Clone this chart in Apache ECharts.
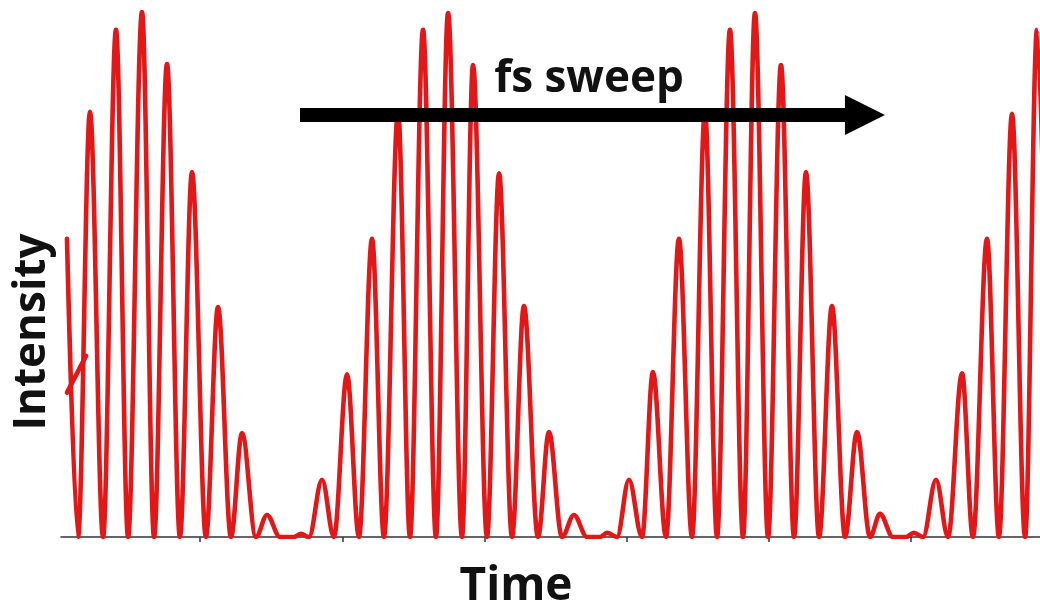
<!DOCTYPE html>
<html>
<head>
<meta charset="utf-8">
<script src="https://cdn.jsdelivr.net/npm/echarts@6/dist/echarts.min.js"></script>
<style>
html,body{margin:0;padding:0;background:#fff;}
#chart{width:1040px;height:602px;}
</style>
</head>
<body>
<div id="chart"></div>
<script>
// Time (arbitrary units, one tick = 1 unit) of each peak / trough of the signal
const timeValues = [
  0.062, 0.140, 0.224, 0.316, 0.407, 0.492, 0.590, 0.675, 0.766, 0.857,
  0.942, 1.040, 1.125, 1.216, 1.294, 1.392, 1.470, 1.561, 1.660, 1.709,
  1.765, 1.857, 1.941, 2.033, 2.117, 2.209, 2.293, 2.392, 2.476, 2.568,
  2.659, 2.744, 2.842, 2.920, 3.018, 3.103, 3.194, 3.278, 3.377, 3.454,
  3.546, 3.630, 3.722, 3.813, 3.863, 3.933, 4.017, 4.109, 4.186, 4.278,
  4.369, 4.461, 4.552, 4.637, 4.728, 4.820, 4.904, 4.996, 5.087, 5.179,
  5.263, 5.355, 5.446, 5.538, 5.622, 5.714, 5.784, 5.875, 5.967, 6.023,
  6.087, 6.178, 6.263, 6.361, 6.438, 6.537, 6.621, 6.713, 6.805, 6.889,
  6.981
];
// Normalised intensity at those times
const intensityValues = [
  0.568, 0, 0.810, 0, 0.966, 0, 1.000, 0, 0.901, 0,
  0.695, 0, 0.438, 0, 0.198, 0, 0.042, 0, 0, 0.006,
  0, 0.109, 0, 0.310, 0, 0.568, 0, 0.810, 0, 0.966,
  0, 0.998, 0, 0.899, 0, 0.693, 0, 0.440, 0, 0.200,
  0, 0.042, 0, 0, 0.008, 0, 0.109, 0, 0.314, 0,
  0.568, 0, 0.810, 0, 0.966, 0, 0.998, 0, 0.899, 0,
  0.695, 0, 0.440, 0, 0.200, 0, 0.044, 0, 0, 0.008,
  0, 0.109, 0, 0.312, 0, 0.568, 0, 0.806, 0, 0.966,
  0
];
// short stray segment at the very start of the trace
const strayTime = [0.062, 0.196];
const strayIntensity = [0.275, 0.345];
// x-axis tick positions
const tickValues = [1, 2, 3, 4, 5, 6];
// "fs sweep" arrow (time, intensity)
const arrowStart = [1.702, 0.804];
const arrowEnd = [5.678, 0.804];
const sweepLabel = 'fs sweep';
const xName = 'Time';
const yName = 'Intensity';

const mainData = timeValues.map((t, i) => [t, intensityValues[i]]);
const strayData = strayTime.map((t, i) => [t, strayIntensity[i]]);

const red = '#e31717';
const font = '"Open Sans", "DejaVu Sans", sans-serif';

const chart = echarts.init(document.getElementById('chart'), null, {renderer: 'canvas'});
chart.setOption({
  animation: false,
  backgroundColor: '#ffffff',
  grid: {left: 61, right: 0, top: 12, bottom: 65},
  xAxis: {
    type: 'value',
    min: 0.02,
    max: 6.91,
    axisLine: {show: true, lineStyle: {color: '#333', width: 1.5}},
    axisTick: {show: true, inside: false, length: 5, customValues: tickValues,
      lineStyle: {color: '#333', width: 1.5}},
    axisLabel: {show: false},
    splitLine: {show: false}
  },
  yAxis: {
    type: 'value',
    min: 0,
    max: 1,
    show: false,
    splitLine: {show: false}
  },
  series: [
    {
      type: 'line',
      data: mainData,
      smooth: 0.35,
      smoothMonotone: 'x',
      symbol: 'none',
      showSymbol: false,
      clip: true,
      lineStyle: {color: red, width: 4.6, cap: 'round', join: 'round'},
      emphasis: {disabled: true},
      markLine: {
        silent: true,
        animation: false,
        symbol: ['none', 'triangle'],
        symbolSize: 40,
        label: {show: false},
        emphasis: {disabled: true},
        lineStyle: {color: '#000', width: 14, type: 'solid', cap: 'butt'},
        itemStyle: {color: '#000'},
        data: [[{coord: arrowStart}, {coord: arrowEnd}]]
      }
    },
    {
      type: 'line',
      data: strayData,
      symbol: 'none',
      showSymbol: false,
      lineStyle: {color: red, width: 4.6, cap: 'round'},
      emphasis: {disabled: true}
    }
  ],
  graphic: [
    {type: 'text', x: 589, y: 79.5, silent: true,
      style: {text: sweepLabel, font: 'bold 44px ' + font, fill: '#111', align: 'center', verticalAlign: 'middle'}},
    {type: 'text', x: 516, y: 587, silent: true,
      style: {text: xName, font: 'bold 46px ' + font, fill: '#111', align: 'center', verticalAlign: 'middle'}},
    {type: 'text', x: 32.5, y: 332, rotation: Math.PI / 2, silent: true,
      style: {text: yName, font: 'bold 44px ' + font, fill: '#111', align: 'center', verticalAlign: 'middle'}}
  ]
});
</script>
</body>
</html>
